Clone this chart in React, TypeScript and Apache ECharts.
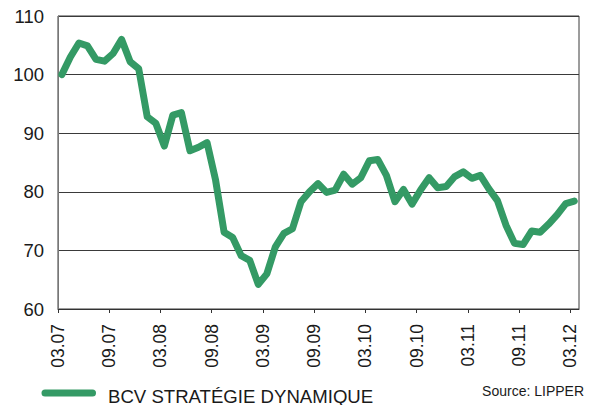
import React, { useEffect, useRef } from "react";
import * as echarts from "echarts";

const seriesName = "BCV STRATÉGIE DYNAMIQUE";
const sourceText = "Source: LIPPER";
const tickLabels = ["03.07", "09.07", "03.08", "09.08", "03.09", "09.09", "03.10", "09.10", "03.11", "09.11", "03.12"];
const monthOffset = 0.45;
const values = [
  100, 103, 105.4, 104.9, 102.6, 102.3, 103.6, 106, 102.2, 101,
  92.8, 91.7, 87.8, 93.1, 93.5, 87, 87.6, 88.4, 82, 73.1,
  72.2, 69.1, 68.3, 64.2, 66, 70.6, 72.9, 73.7, 78.3, 80,
  81.4, 79.9, 80.3, 83, 81.3, 82.4, 85.3, 85.5, 82.8, 78.3,
  80.4, 77.9, 80.3, 82.4, 80.7, 80.9, 82.6, 83.4, 82.3, 82.8,
  80.5, 78.5, 74.3, 71.2, 71, 73.3, 73.1, 74.5, 76.1, 78, 78.4,
];
const yTicks = [60, 70, 80, 90, 100, 110];

const GREEN = "#349a65";
const FONT = "'Liberation Sans', Arial, sans-serif";

export default function App() {
  const ref = useRef<HTMLDivElement>(null);
  useEffect(() => {
    if (!ref.current) return;
    const chart = echarts.init(ref.current, null, { renderer: "svg" });
    const data = values.map((v, i) => [i + monthOffset, v]);
    chart.setOption({
      animation: false,
      grid: {
        left: 58,
        top: 16,
        right: 10,
        bottom: 96,
        show: true,
        borderColor: "#3a3a3a",
        borderWidth: 1,
      },
      xAxis: {
        type: "value",
        min: 0,
        max: 61,
        interval: 6,
        axisLine: { show: true, lineStyle: { color: "#333", width: 1 } },
        axisTick: { show: true, length: 4, inside: false, lineStyle: { color: "#333" } },
        splitLine: { show: false },
        axisLabel: {
          rotate: 90,
          margin: 15,
          fontSize: 17.5,
          fontFamily: FONT,
          color: "#1a1a1a",
          showMaxLabel: false,
          formatter: (v: number) => {
            const idx = Math.round(v / 6);
            return v % 6 === 0 && tickLabels[idx] ? tickLabels[idx] : "";
          },
        },
      },
      yAxis: {
        type: "value",
        min: yTicks[0],
        max: yTicks[yTicks.length - 1],
        interval: 10,
        axisLine: { show: true, lineStyle: { color: "#777", width: 1 } },
        axisTick: { show: false },
        splitLine: { show: true, lineStyle: { color: "#3a3a3a", width: 1 } },
        axisLabel: {
          margin: 14,
          fontSize: 18.5,
          fontFamily: FONT,
          color: "#1a1a1a",
        },
      },
      series: [
        {
          name: seriesName,
          type: "line",
          data,
          showSymbol: false,
          symbol: "none",
          lineStyle: { color: GREEN, width: 7, cap: "round", join: "round" },
          z: 3,
        },
      ],
      graphic: [
        {
          type: "line",
          shape: { x1: 45, y1: 393, x2: 92.5, y2: 393 },
          style: { stroke: GREEN, lineWidth: 7, lineCap: "round" },
        },
        {
          type: "text",
          x: 108,
          y: 396,
          style: {
            text: seriesName,
            font: `18.6px ${FONT}`,
            fill: "#1a1a1a",
            textVerticalAlign: "middle",
            verticalAlign: "middle",
          },
        },
        {
          type: "text",
          x: 584,
          y: 391,
          style: {
            text: sourceText,
            font: `14px ${FONT}`,
            fill: "#1a1a1a",
            textAlign: "right",
            align: "right",
            verticalAlign: "middle",
          },
        },
      ],
    });
    return () => chart.dispose();
  }, []);
  return (
    <div
      ref={ref}
      style={{ position: "fixed", left: 0, top: 0, width: 589, height: 405, background: "#fff" }}
    />
  );
}
